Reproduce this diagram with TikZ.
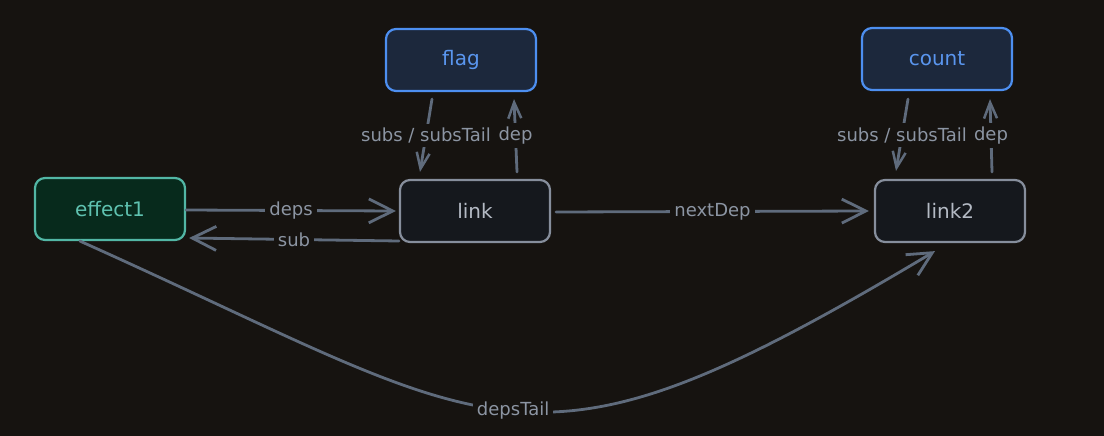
\documentclass[tikz,border=0pt]{standalone}
\usepackage{fontspec}
\setmainfont{DejaVu Sans}
\usetikzlibrary{arrows.meta,calc}
\definecolor{bg}{RGB}{22,19,16}
\definecolor{efill}{RGB}{7,42,28}
\definecolor{edraw}{RGB}{82,182,165}
\definecolor{etext}{RGB}{95,194,176}
\definecolor{lfill}{RGB}{21,24,29}
\definecolor{ldraw}{RGB}{134,142,156}
\definecolor{ltext}{RGB}{180,186,196}
\definecolor{sfill}{RGB}{28,40,60}
\definecolor{sdraw}{RGB}{77,143,240}
\definecolor{stext}{RGB}{90,150,239}
\definecolor{edge}{RGB}{95,107,124}
\definecolor{labtext}{RGB}{140,149,163}
\tikzset{
  box/.style={rounded corners=10pt, line width=2.2pt, minimum width=150pt, minimum height=62pt, inner sep=0pt, font=\fontsize{20}{24}\selectfont},
  effectbox/.style={box, fill=efill, draw=edraw, text=etext},
  linkbox/.style={box, fill=lfill, draw=ldraw, text=ltext},
  signalbox/.style={box, fill=sfill, draw=sdraw, text=stext},
  conn/.style={draw=edge, line width=2.8pt, line cap=round},
  bigtip/.style={-{Straight Barb[length=24pt,width=24pt,line width=2.8pt]}},
  smalltip/.style={-{Straight Barb[length=16pt,width=13pt,line width=2.5pt]}},
  lab/.style={fill=bg, text=labtext, inner sep=4pt, font=\fontsize{18}{21}\selectfont},
}
\begin{document}
\begin{tikzpicture}[x=1pt,y=-1pt]
\fill[bg] (0,0) rectangle (1104,436);
\useasboundingbox (0,0) rectangle (1104,436);

\node[effectbox] (effect1) at (110,209) {effect1};
\node[linkbox] (link) at (475,211) {link};
\node[linkbox] (link2) at (950,211) {link2};
\node[signalbox] (flag) at (461,60) {flag};
\node[signalbox] (count) at (937,59) {count};

% deps / sub
\draw[conn,bigtip] ([yshift=-1pt]effect1.east) -- node[lab] (ldeps) {deps} ([xshift=-3pt]link.west);
\draw[conn,bigtip] ([yshift=-30pt]link.west) -- node[lab,inner ysep=1pt] (lsub) {sub} ([xshift=3pt,yshift=-29pt]effect1.east);

% nextDep
\draw[conn,bigtip] ([xshift=5pt,yshift=-1pt]link.east) -- node[lab] (lnext) {nextDep} ([xshift=-5pt]link2.west);

% flag <-> link
\draw[conn,smalltip] ($(flag.south)+(-29,7)$) -- node[lab] (lsubs1) {subs / subsTail} ($(link.north)+(-55,-7)$);
\draw[conn,smalltip] ($(link.north)+(42,-7)$) -- node[lab,inner xsep=1pt] (ldep1) {dep} ($(flag.south)+(53,7)$);

% count <-> link2
\draw[conn,smalltip] ($(count.south)+(-29,8)$) -- node[lab] (lsubs2) {subs / subsTail} ($(link2.north)+(-54,-8)$);
\draw[conn,smalltip] ($(link2.north)+(42,-7)$) -- node[lab,inner xsep=1pt] (ldep2) {dep} ($(count.south)+(53,8)$);

% depsTail
\draw[conn,bigtip] ($(effect1.south)+(-30,0)$) .. controls (508,433) and (522,498) .. node[lab,pos=0.5] (ltail) {depsTail} ($(link2.south)+(-15,8)$);
\end{tikzpicture}
\end{document}
